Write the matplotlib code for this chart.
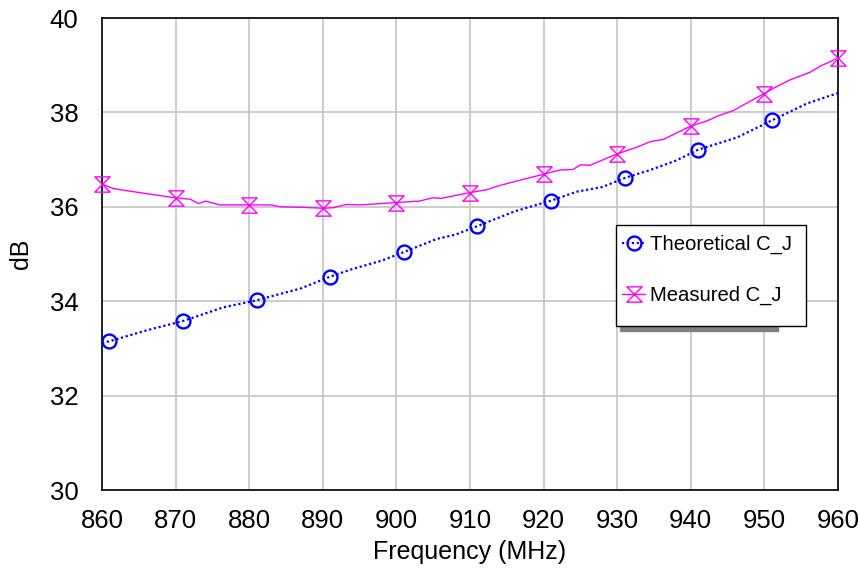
import matplotlib
matplotlib.use("Agg")
import matplotlib.pyplot as plt
from matplotlib.path import Path
from matplotlib.patches import Rectangle

plt.rcParams['font.family'] = ['Liberation Sans', 'DejaVu Sans']

# Theoretical C_J (dB) vs frequency (MHz)
theo_freq = [860, 861, 866, 871, 876.5, 881, 887, 891, 894, 898, 901, 905.5, 908, 911,
             916, 921, 924.5, 928, 931, 934.5, 938, 941, 946.3, 951, 955.8, 960]
theo_db = [33.12, 33.15, 33.38, 33.58, 33.87, 34.02, 34.27, 34.52, 34.68, 34.86, 35.04,
           35.32, 35.41, 35.59, 35.90, 36.13, 36.32, 36.42, 36.61, 36.78, 36.98, 37.21,
           37.47, 37.83, 38.19, 38.41]
theo_marker_freq = [861, 871, 881, 891, 901, 911, 921, 931, 941, 951]

# Measured C_J (dB) vs frequency (MHz)
meas_freq = [860, 861.5, 863, 866, 870, 872, 873.1, 874.1, 876, 880, 883, 884.2, 887, 890,
             891.4, 893.2, 895, 898, 900, 903.1, 904.9, 906.1, 910, 912.2, 914, 917.2, 920,
             922.2, 924, 925, 926.3, 930, 932.6, 934.5, 936.3, 940, 942.2, 943.6, 945.8,
             948.1, 950, 951.2, 953.5, 956.2, 957.6, 960]
meas_db = [36.48, 36.39, 36.35, 36.28, 36.19, 36.16, 36.07, 36.12, 36.04, 36.04, 36.04,
           36.00, 35.99, 35.97, 35.98, 36.05, 36.04, 36.07, 36.09, 36.12, 36.19, 36.18,
           36.30, 36.36, 36.45, 36.58, 36.69, 36.78, 36.79, 36.89, 36.88, 37.12, 37.26,
           37.38, 37.43, 37.71, 37.82, 37.92, 38.04, 38.24, 38.40, 38.51, 38.69, 38.85,
           38.98, 39.15]
meas_marker_freq = [860, 870, 880, 890, 900, 910, 920, 930, 940, 950, 960]

x_ticks = [860, 870, 880, 890, 900, 910, 920, 930, 940, 950, 960]
y_ticks = [30, 32, 34, 36, 38, 40]

hourglass = Path([(-0.5, 0.5), (0.5, 0.5), (-0.5, -0.5), (0.5, -0.5), (-0.5, 0.5)],
                 [Path.MOVETO, Path.LINETO, Path.LINETO, Path.LINETO, Path.CLOSEPOLY])

W, H = 860, 570
fig = plt.figure(figsize=(W/100, H/100), dpi=100)
ax = fig.add_axes([102/W, 1-490/H, 736/W, 472/H])

blue = '#0000FF'
mag = '#FF00FF'

ax.plot(theo_freq, theo_db, color=blue, lw=1.6, linestyle=(0, (1, 1.2)),
        marker='o', markersize=10, markerfacecolor='none', markeredgecolor=blue,
        markeredgewidth=1.7, markevery=[theo_freq.index(f) for f in theo_marker_freq],
        clip_on=False, label='Theoretical C_J', zorder=3)
ax.plot(meas_freq, meas_db, color=mag, lw=1.0, linestyle='-',
        marker=hourglass, markersize=11, markerfacecolor='none', markeredgecolor=mag,
        markeredgewidth=1.0, markevery=[meas_freq.index(f) for f in meas_marker_freq],
        clip_on=False, label='Measured C_J', zorder=4)

ax.set_xlim(860, 960)
ax.set_ylim(30, 40)
ax.set_xticks(x_ticks)
ax.set_yticks(y_ticks)
ax.tick_params(length=0, labelsize=18.5)
ax.tick_params(axis='x', pad=14)
ax.tick_params(axis='y', pad=17)
ax.grid(True, color='#c8c8c8', lw=1.3)
ax.set_axisbelow(True)
for s in ax.spines.values():
    s.set_color('black')
    s.set_linewidth(1.2)
ax.set_xlabel('Frequency (MHz)', fontsize=18, labelpad=5)
ax.set_ylabel('dB', fontsize=18, labelpad=12)

# legend frame (drawn separately) and shadow
ax.add_patch(Rectangle((620/W, 1-331/H), 158/W, 6/H, transform=fig.transFigure,
                       color='#808080', zorder=8, clip_on=False))
ax.add_patch(Rectangle((616/W, 1-326/H), 190/W, 101/H, transform=fig.transFigure,
                       facecolor='white', edgecolor='black', lw=1.0, zorder=9,
                       clip_on=False))

leg = ax.legend(loc='upper left', bbox_to_anchor=(616/W, 1-229/H),
                bbox_transform=fig.transFigure,
                borderaxespad=0, fontsize=14.6, handlelength=1.15, handletextpad=0.25,
                labelspacing=1.55, borderpad=0.3, frameon=False)
leg.set_zorder(10)

fig.savefig('out.png', dpi=100)
